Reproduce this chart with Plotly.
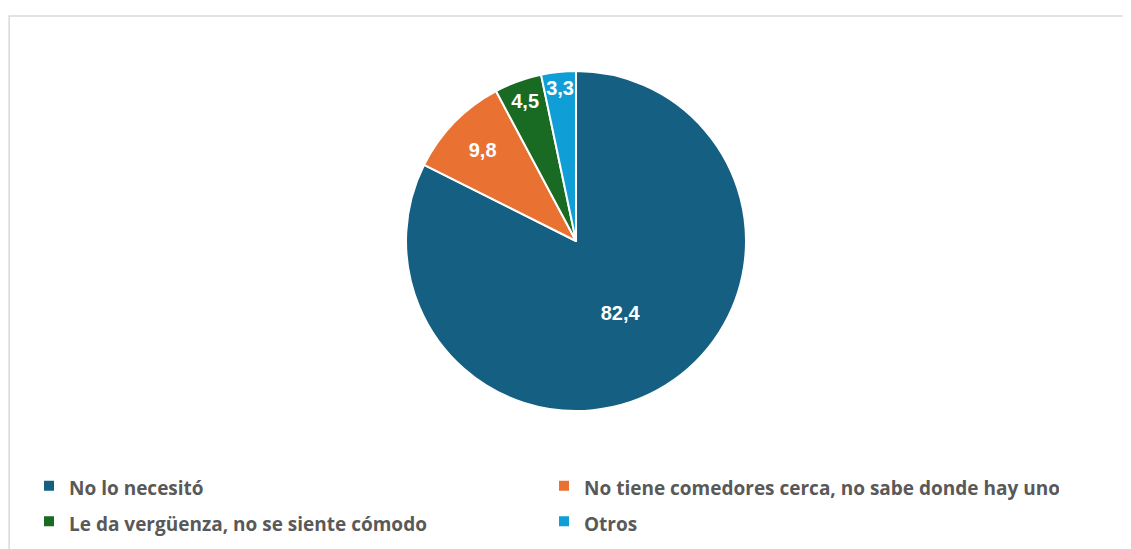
import plotly.graph_objects as go

# Motivos para no asistir a comedores (%)
motivos = [
    "No lo necesitó",
    "No tiene comedores cerca, no sabe donde hay uno",
    "Le da vergüenza, no se siente cómodo",
    "Otros",
]
porcentajes = [82.4, 9.8, 4.5, 3.3]
colores = ["#156082", "#E97132", "#196B24", "#0F9ED5"]

# texto de leyenda más chico que la fuente base (la fuente base da el alto de fila)
etiquetas = [f"<span style='font-size:19px'>{m}</span>" for m in motivos]

W, H = 1123, 541  # la página tiene 8px de margen en el body

fig = go.Figure()

fig.add_trace(go.Pie(
    labels=etiquetas,
    values=porcentajes,
    sort=False,
    direction="clockwise",
    rotation=0,
    marker=dict(colors=colores, line=dict(color="white", width=2)),
    texttemplate="%{value:.1f}",
    textposition="inside",
    insidetextorientation="horizontal",
    textfont=dict(family="Liberation Sans", size=20, color="white", weight="bold"),
    hovertemplate="%{value:.1f}<extra></extra>",
    domain=dict(x=[0.3544, 0.6572], y=[0.2551, 0.8835]),
))

fig.update_layout(
    width=W,
    height=H,
    separators=",.",
    paper_bgcolor="white",
    plot_bgcolor="white",
    margin=dict(l=0, r=0, t=0, b=0),
    uniformtext=dict(minsize=20, mode="show"),
    showlegend=True,
    legend=dict(
        orientation="h",
        x=0.0187, xanchor="left",
        y=0.159, yanchor="top",
        entrywidth=470,
        entrywidthmode="pixels",
        font=dict(family="Open Sans", size=25, color="#595959", weight="bold"),
        bgcolor="rgba(0,0,0,0)",
    ),
    # marco gris claro del gráfico
    shapes=[dict(
        type="rect", xref="paper", yref="paper",
        x0=0.001, x1=1.02, y0=-0.05, y1=0.985,
        line=dict(color="#d9d9d9", width=1.5),
    )],
)

fig.write_html("out.html")
